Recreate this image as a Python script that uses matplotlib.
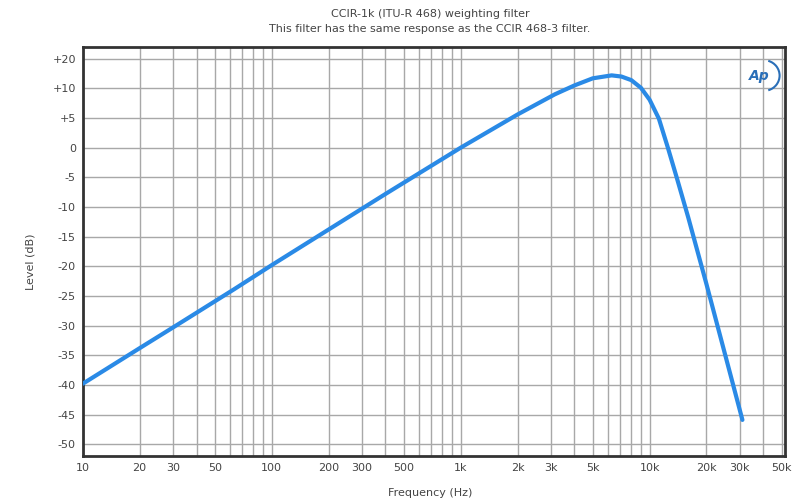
import matplotlib
matplotlib.use("Agg")
import matplotlib.pyplot as plt
from matplotlib.patches import Arc

# CCIR-1k (ITU-R 468) response
freq_hz = [10, 20, 31.5, 63, 100, 200, 400, 800, 1000, 2000, 3150, 4000,
           5000, 6300, 7100, 8000, 9000, 10000, 11200, 12500, 14000, 16000,
           20000, 31000]
level_db = [-39.8, -33.8, -29.9, -23.9, -19.8, -13.8, -7.8, -1.9, 0.0, 5.6,
            9.0, 10.5, 11.7, 12.2, 12.0, 11.4, 10.1, 8.1, 4.9, 0.0, -5.3,
            -11.7, -23.0, -45.9]

x_ticks = [10, 20, 30, 50, 100, 200, 300, 500, 1000, 2000, 3000, 5000,
           10000, 20000, 30000, 50000]
x_labels = ["10", "20", "30", "50", "100", "200", "300", "500", "1k", "2k",
            "3k", "5k", "10k", "20k", "30k", "50k"]
y_ticks = [15, 10, 5, 0, -5, -10, -15, -20, -25, -30, -35, -40, -45, -50]
y_labels = ["+20", "+10", "+5", "0", "-5", "-10", "-15", "-20", "-25", "-30",
            "-35", "-40", "-45", "-50"]

text_col = "#444444"
grid_col = "#a8a8a8"

fig = plt.figure(figsize=(7.96, 4.99), dpi=100)
ax = fig.add_axes([0.104, 0.086, 0.882, 0.82])

ax.set_xscale("log")
minor = [m * 10 ** e for e in range(1, 5) for m in range(2, 10) if m * 10 ** e <= 50000]
ax.set_xticks(minor, minor=True)
ax.set_xticks(x_ticks)
ax.set_xticklabels(x_labels)
ax.xaxis.set_minor_formatter(matplotlib.ticker.NullFormatter())
ax.set_yticks(y_ticks)
ax.set_yticklabels(y_labels)
ax.set_xlim(10, 52000)
ax.set_ylim(-52, 17)

ax.grid(True, which="both", axis="x", color=grid_col, linewidth=1.0)
ax.grid(True, which="major", axis="y", color=grid_col, linewidth=1.0)
ax.tick_params(which="both", length=0, labelsize=8, colors=text_col, pad=5)

for s in ax.spines.values():
    s.set_color("#333333")
    s.set_linewidth(2)

ax.plot(freq_hz, level_db, color="#2a8ae6", linewidth=3, solid_capstyle="round",
        zorder=3)

fig.text(0.54, 0.972, "CCIR-1k (ITU-R 468) weighting filter", ha="center",
         va="center", fontsize=8, color=text_col)
fig.text(0.54, 0.941, "This filter has the same response as the CCIR 468-3 filter.",
         ha="center", va="center", fontsize=8, color=text_col)
fig.text(0.038, 0.475, "Level (dB)", rotation=90, ha="center", va="center",
         fontsize=8, color=text_col)
fig.text(0.54, 0.003, "Frequency (Hz)", ha="center", va="bottom", fontsize=8,
         color=text_col)

# AP logo
ax.text(0.963, 0.93, "Ap", transform=ax.transAxes, ha="center", va="center",
        fontsize=10, fontstyle="italic", fontweight="bold", color="#2a6fb8",
        zorder=4)
ax.add_patch(Arc((0.97, 0.93), 0.045, 0.075, theta1=-80, theta2=80,
                 transform=ax.transAxes, color="#2a6fb8", linewidth=1.5,
                 zorder=4))

fig.savefig("out.png", dpi=100)
